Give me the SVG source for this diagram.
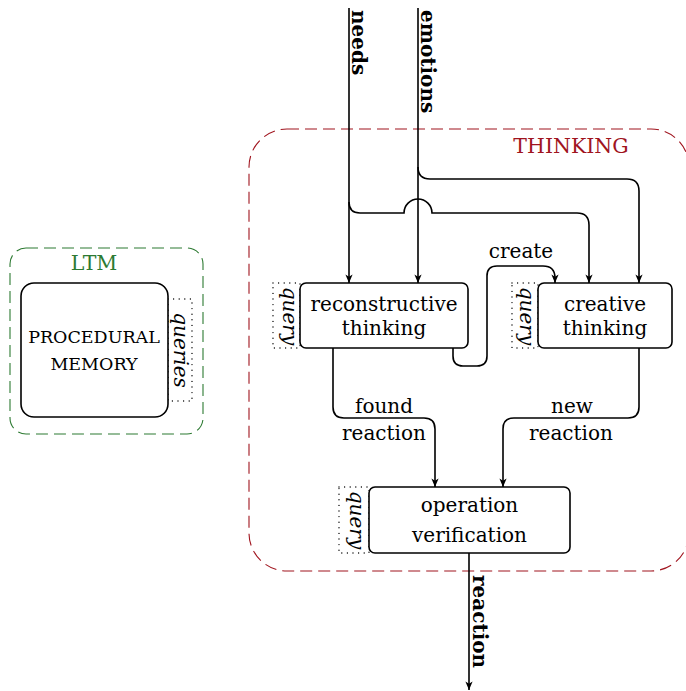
<svg xmlns="http://www.w3.org/2000/svg" width="686" height="691" viewBox="0 0 686 691">
<defs>
<marker id="arr" viewBox="-10 -5 12 10" refX="0" refY="0" markerWidth="12" markerHeight="10" markerUnits="userSpaceOnUse" orient="auto">
<path d="M0,0 L-8.5,-3.6 L-6.2,0 L-8.5,3.6 Z" fill="#000"/>
</marker>
</defs>
<style>
text{font-family:"DejaVu Serif","Liberation Serif",serif;font-size:20px;fill:#000}
.c{text-anchor:middle}
.b{font-weight:bold}
.it{font-style:italic}
.node{fill:#fff;stroke:#000;stroke-width:1.6}
.dot{fill:none;stroke:#000;stroke-width:1.4;stroke-dasharray:0 5.6;stroke-linecap:round}
.conn{fill:none;stroke:#000;stroke-width:1.6}
.arr{marker-end:url(#arr)}
</style>
<rect width="686" height="691" fill="#fff"/>
<g id="thinking">
<rect x="249" y="129" width="440" height="442" rx="38" fill="none" stroke="#a0141e" stroke-width="1.1" stroke-dasharray="12 6"/>
<text class="c" x="571" y="153" style="fill:#a0141e;font-size:20.5px">THINKING</text>
</g>
<g id="ltm">
<rect x="10" y="248" width="193" height="186" rx="16" fill="none" stroke="#2d7a32" stroke-width="1.1" stroke-dasharray="12 6"/>
<text class="c" x="94" y="270" style="fill:#2d7a32;font-size:20.5px">LTM</text>
</g>
<g id="connectors">
<path class="conn arr" d="M349,8 V283"/>
<path class="conn arr" d="M418,8 V283"/>
<path class="conn arr" d="M349,202 Q349,213 360,213 H404 A14,14 0 0 1 432,213 H577 Q589,213 589,225 V283"/>
<path class="conn arr" d="M418,167 Q418,179 430,179 H627 Q639,179 639,191 V283"/>
<path class="conn arr" d="M453,348 V356 Q453,366 463,366 H477 Q487,366 487,356 V276 Q487,266 497,266 H543 Q555,266 555,278 V283"/>
<path class="conn arr" d="M333,348 V407 Q333,418 344,418 H424 Q435,418 435,429 V487"/>
<path class="conn arr" d="M639,348 V407 Q639,418 628,418 H514 Q503,418 503,429 V487"/>
<path class="conn arr" d="M469,553 V690"/>
<text class="b" transform="translate(352,10) rotate(90)">needs</text>
<text class="b" transform="translate(421,10) rotate(90)">emotions</text>
<text class="b" transform="translate(473,575) rotate(90)">reaction</text>
<text class="c" x="521" y="258">create</text>
<text class="c" x="384" y="413">found</text>
<text class="c" x="384" y="440">reaction</text>
<text class="c" x="572" y="413">new</text>
<text class="c" x="571" y="440">reaction</text>
</g>
<g id="procedural">
<rect class="dot" x="168" y="299" width="24" height="102"/>
<text class="it c" transform="translate(174,350) rotate(90)">queries</text>
<rect class="node" x="21" y="283" width="147" height="134" rx="13"/>
<text class="c" x="94" y="343" style="font-size:17.5px">PROCEDURAL</text>
<text class="c" x="94" y="370" style="font-size:17.5px">MEMORY</text>
</g>
<g id="reconstructive">
<rect class="dot" x="273" y="283" width="27" height="65"/>
<text class="it c" transform="translate(283,316) rotate(90)">query</text>
<rect class="node" x="300" y="283" width="168" height="65" rx="6"/>
<text class="c" x="384" y="311">reconstructive</text>
<text class="c" x="384" y="335">thinking</text>
</g>
<g id="creative">
<rect class="dot" x="512" y="283" width="26" height="65"/>
<text class="it c" transform="translate(520,316) rotate(90)">query</text>
<rect class="node" x="538" y="283" width="134" height="65" rx="6"/>
<text class="c" x="605" y="311">creative</text>
<text class="c" x="605" y="335">thinking</text>
</g>
<g id="operation">
<rect class="dot" x="339" y="487" width="30" height="66"/>
<text class="it c" transform="translate(350,520) rotate(90)">query</text>
<rect class="node" x="369" y="487" width="201" height="66" rx="6"/>
<text class="c" x="469.5" y="512">operation</text>
<text class="c" x="469.5" y="542">verification</text>
</g>
</svg>
